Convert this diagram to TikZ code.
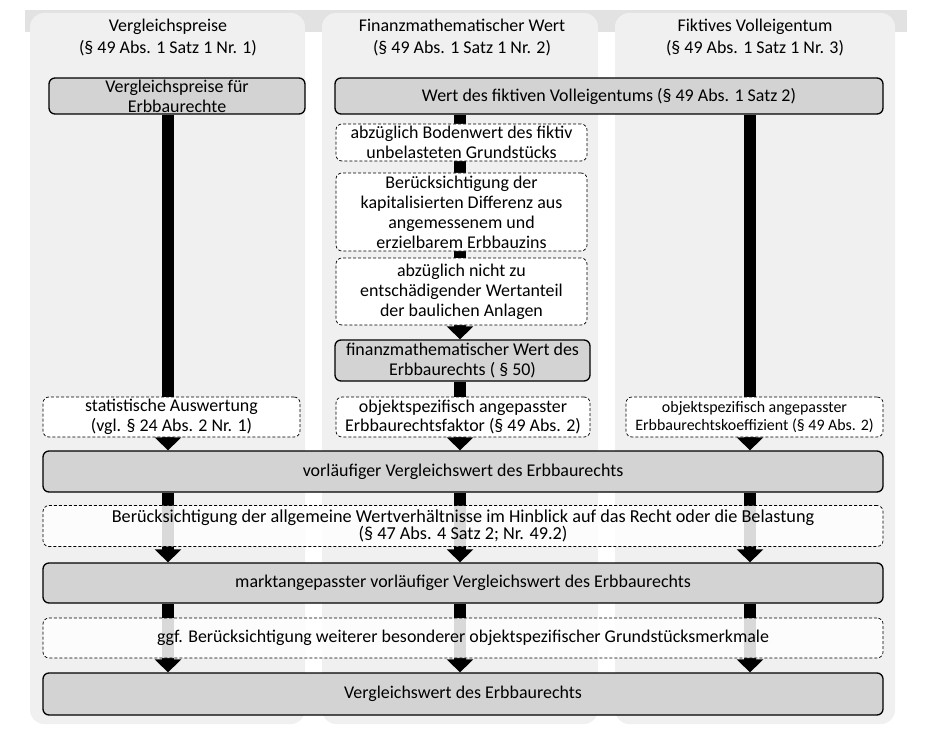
\documentclass[tikz,border=0pt]{standalone}
\usepackage{fontspec}
\setmainfont{Carlito}
\usetikzlibrary{arrows.meta}
\pgfdeclarelayer{bg}
\pgfdeclarelayer{arr}
\pgfsetlayers{bg,arr,main}
\definecolor{panelgray}{RGB}{240,240,240}
\definecolor{bandgray}{RGB}{226,226,226}
\definecolor{boxgray}{RGB}{211,211,211}
\def\colbar(#1,#2,#3){
  \draw[flowbar] (#2.south -| #1) -- (#3.north -| #1);
}
\def\colpanel(#1,#2){
  \fill[panelgray, rounded corners=14bp] (#1,13) rectangle (#2,724);
}

\begin{document}
\begin{tikzpicture}[x=1bp, y=-1bp,
  every node/.style={font=\fontsize{18}{20}\selectfont, align=center, inner sep=0pt},
  headline/.style={font=\fontsize{18}{23}\selectfont},
  graybox/.style={draw, line width=1.3bp, fill=boxgray, rounded corners=6bp},
  dashbox/.style={draw, dash pattern=on 3bp off 2bp, line width=0.7bp, fill=white, rounded corners=6bp},
  widedash/.style={dashbox, fill opacity=0.85, text opacity=1},
  flowbar/.style={line width=12bp, -{Triangle[width=26bp,length=13bp]}}]
\useasboundingbox (0,0) rectangle (929,735);
\begin{pgfonlayer}{bg}
\fill[bandgray] (25,10) rectangle (907,32);
\colpanel(30,305)
\colpanel(322,598)
\colpanel(615,895)
\end{pgfonlayer}
\coordinate (c1) at (168,0);
\coordinate (c2) at (460,0);
\coordinate (c3) at (750,0);
\node[headline] (h1) at (168,37.5) {Vergleichspreise\\(§ 49 Abs. 1 Satz 1 Nr. 1)};
\node[headline] (h2) at (462,37.5) {Finanzmathematischer Wert\\(§ 49 Abs. 1 Satz 1 Nr. 2)};
\node[headline] (h3) at (755,37.5) {Fiktives Volleigentum\\(§ 49 Abs. 1 Satz 1 Nr. 3)};
\node[graybox, minimum width=256bp, minimum height=36bp] (vp) at (177,96) {Vergleichspreise für\\Erbbaurechte};
\node[graybox, minimum width=548bp, minimum height=36bp] (wert) at (609,96) {Wert des fiktiven Volleigentums (§ 49 Abs. 1 Satz 2)};
\node[dashbox, minimum width=251bp, minimum height=37bp] (ab1) at (461.5,142.5) {abzüglich Bodenwert des fiktiv\\unbelasteten Grundstücks};
\node[dashbox, minimum width=251bp, minimum height=78bp] (ab2) at (461.5,212) {Berücksichtigung der\\kapitalisierten Differenz aus\\angemessenem und\\erzielbarem Erbbauzins};
\node[dashbox, minimum width=251bp, minimum height=67bp] (ab3) at (461.5,291.5) {abzüglich nicht zu\\entschädigender Wertanteil\\der baulichen Anlagen};
\node[graybox, minimum width=255bp, minimum height=41bp] (fin) at (462.5,360.5) {finanzmathematischer Wert des\\Erbbaurechts ( § 50)};
\node[dashbox, minimum width=257bp, minimum height=40bp] (stat) at (171.5,417) {statistische Auswertung\\(vgl. § 24 Abs. 2 Nr. 1)};
\node[dashbox, minimum width=254bp, minimum height=40bp] (fak) at (463,417) {objektspezifisch angepasster\\Erbbaurechtsfaktor (§ 49 Abs. 2)};
\node[dashbox, minimum width=257bp, minimum height=40bp, font=\fontsize{16}{18}\selectfont] (koef) at (754.5,417) {objektspezifisch angepasster\\Erbbaurechtskoeffizient (§ 49 Abs. 2)};
\node[graybox, minimum width=840bp, minimum height=41bp] (vorl) at (463,471.5) {vorläufiger Vergleichswert des Erbbaurechts};
\node[widedash, minimum width=840bp, minimum height=41bp, font=\fontsize{18.3}{16.5}\selectfont] (ber) at (463,526) {Berücksichtigung der allgemeine Wertverhältnisse im Hinblick auf das Recht oder die Belastung\\(§ 47 Abs. 4 Satz 2; Nr. 49.2)};
\node[graybox, minimum width=840bp, minimum height=40bp] (markt) at (463,583) {marktangepasster vorläufiger Vergleichswert des Erbbaurechts};
\node[widedash, minimum width=840bp, minimum height=40bp] (ggf) at (463,638) {ggf. Berücksichtigung weiterer besonderer objektspezifischer Grundstücksmerkmale};
\node[graybox, minimum width=840bp, minimum height=42bp] (vw) at (463,694) {Vergleichswert des Erbbaurechts};
\begin{pgfonlayer}{arr}
\colbar(c1,vp,vorl)
\colbar(c2,wert,fin)
\colbar(c2,fin,vorl)
\colbar(c3,wert,vorl)
\foreach \c in {c1,c2,c3} {
  \colbar(\c,vorl,markt)
  \colbar(\c,markt,vw)
}
\end{pgfonlayer}
\end{tikzpicture}
\end{document}
